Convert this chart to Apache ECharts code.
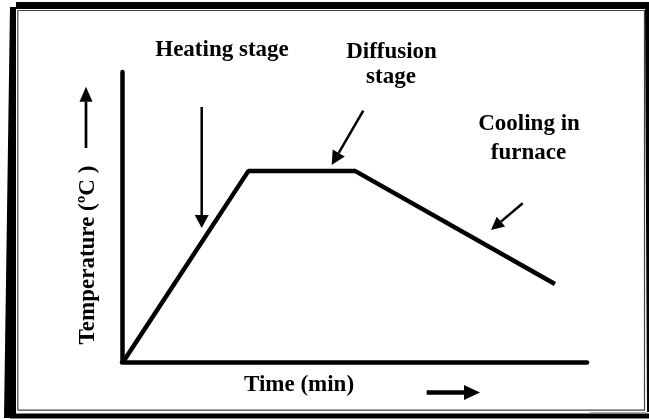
<!DOCTYPE html>
<html>
<head>
<meta charset="utf-8">
<script src="https://cdn.jsdelivr.net/npm/echarts@6/dist/echarts.min.js"></script>
<style>
  html, body { margin: 0; padding: 0; background: #fff; }
  #chart { width: 649px; height: 419px; }
</style>
</head>
<body>
<div id="chart"></div>
<script>
// heat treatment cycle (axes have no numbers, 0-100 scale)
const timeValues = [0.4, 27.2, 50.1, 93.1]
const tempValues = [0.4, 65.9, 65.9, 26.9]
const stageLabels = ['Heating stage', 'Diffusion', 'stage', 'Cooling in', 'furnace']
const xAxisTitle = 'Time (min)'
const yAxisTitle = 'Temperature (ºC )'

const font = '"Liberation Serif", "Times New Roman", serif'

// filled-head arrow as a graphic group
function arrow(x1, y1, x2, y2, headLen, headW, shaftW) {
  const dx = x2 - x1, dy = y2 - y1
  const len = Math.sqrt(dx * dx + dy * dy)
  const ux = dx / len, uy = dy / len
  const bx = x2 - ux * headLen, by = y2 - uy * headLen
  const px = -uy * headW / 2, py = ux * headW / 2
  return {
    type: 'group',
    children: [
      {
        type: 'line',
        shape: {x1: x1, y1: y1, x2: bx, y2: by},
        style: {stroke: '#000', lineWidth: shaftW}
      },
      {
        type: 'polygon',
        shape: {points: [[x2, y2], [bx + px, by + py], [bx - px, by - py]]},
        style: {fill: '#000'}
      }
    ]
  }
}

function label(text, x, y, rotation) {
  return {
    type: 'text',
    x: x,
    y: y,
    rotation: rotation || 0,
    style: {
      text: text,
      font: 'bold 23px ' + font,
      fill: '#000',
      align: 'center',
      verticalAlign: 'middle'
    }
  }
}

const frame = [
  // thick outer border
  {type: 'polygon', shape: {points: [[10, 7], [16, 7], [16, 418], [4, 418]]}, style: {fill: '#000'}},
  {type: 'rect', shape: {x: 16, y: 2, width: 633, height: 7}, style: {fill: '#000'}},
  {type: 'polygon', shape: {points: [[645, 9], [649, 9], [649, 412], [647, 412]]}, style: {fill: '#000'}},
  {type: 'rect', shape: {x: 10, y: 413.5, width: 639, height: 5}, style: {fill: '#000'}},
  // thin inner border
  {
    type: 'polyline',
    shape: {points: [[17.8, 410.2], [17.8, 10.5], [644.5, 10.5], [644.5, 410.2], [17.8, 410.2]]},
    style: {stroke: '#444', lineWidth: 1.2, fill: null}
  },
  {type: 'line', shape: {x1: 590, y1: 412.8, x2: 647, y2: 412.8}, style: {stroke: '#888', lineWidth: 1}}
]

const chart = echarts.init(document.getElementById('chart'))

const option = {
  animation: false,
  backgroundColor: '#fff',
  grid: {left: 122, top: 72, width: 465, height: 290},
  xAxis: {
    type: 'value',
    min: 0,
    max: 100,
    axisLine: {show: true, lineStyle: {color: '#000', width: 4.5}},
    axisTick: {show: false},
    axisLabel: {show: false},
    splitLine: {show: false}
  },
  yAxis: {
    type: 'value',
    min: 0,
    max: 100,
    axisLine: {show: true, lineStyle: {color: '#000', width: 4.5}},
    axisTick: {show: false},
    axisLabel: {show: false},
    splitLine: {show: false}
  },
  series: [
    {
      type: 'line',
      data: timeValues.map((t, i) => [t, tempValues[i]]),
      symbol: 'none',
      lineStyle: {color: '#000', width: 4.5}
    }
  ],
  graphic: frame.concat([
    label(stageLabels[0], 222, 50.5),
    label(stageLabels[1], 391.5, 52.5),
    label(stageLabels[2], 391, 77),
    label(stageLabels[3], 529, 124.5),
    label(stageLabels[4], 528.5, 153),
    label(xAxisTitle, 299, 385.5),
    label(yAxisTitle, 88, 255, Math.PI / 2),
    arrow(201.7, 107, 201.7, 228, 13, 14, 2.5),
    arrow(363.3, 110.7, 331.7, 165, 14, 14, 2.5),
    arrow(522.7, 203.3, 491, 230, 13, 13, 2.5),
    arrow(426.7, 392.5, 480, 392.5, 16, 15, 4.5),
    arrow(86, 148, 86, 86.7, 15, 13, 2.7)
  ])
}

chart.setOption(option)
</script>
</body>
</html>
